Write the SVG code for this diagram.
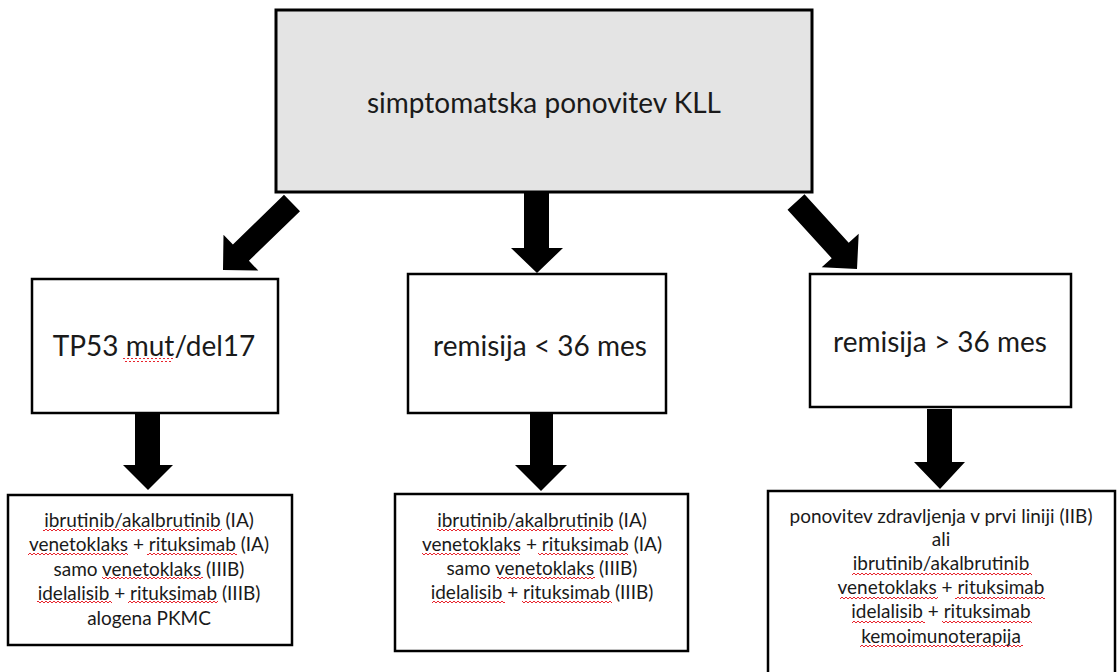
<svg xmlns="http://www.w3.org/2000/svg" width="1117" height="672" viewBox="0 0 1117 672">
<defs>
<pattern id="sq" width="4" height="4" patternUnits="userSpaceOnUse">
<path d="M0,3 L2,1 L4,3" fill="none" stroke="#e8232c" stroke-width="1"/>
</pattern>
<style>
.box{fill:#fff;stroke:#000;stroke-width:2.5}
.top{fill:#e4e4e4;stroke:#000;stroke-width:3}
.t{font-family:Lato,"Liberation Sans",sans-serif;fill:#1a1a1a;text-anchor:middle}
.big{font-size:28px}
.sm{font-size:19px}
.arr{fill:#000}
.sq{fill:url(#sq)}
</style>
</defs>
<g id="connectors">
<polygon class="arr" points="284,194.8 300,211.2 248.9,260.8 258.3,270.5 223,270 223.5,234.7 232.9,244.4"/>
<polygon class="arr" points="524,193 549,193 549,248 563,248 537,273 511,248 524,248"/>
<polygon class="arr" points="804.5,194.3 848.7,242.8 858.7,233.7 857,269 821.7,267.3 831.7,258.2 787.5,209.7"/>
<polygon class="arr" points="135,413 160,413 160,465 173,465 148,490 123,465 135,465"/>
<polygon class="arr" points="530,413 553,413 553,465 567,465 541,491 515,465 530,465"/>
<polygon class="arr" points="927,409 952,409 952,462 965,462 940,489 914,462 927,462"/>
</g>
<g id="n-top">
<rect class="top" x="276" y="10" width="536" height="182"/>
<text class="t big" x="544" y="113">simptomatska ponovitev KLL</text>
</g>
<g id="n-tp53">
<rect class="box" x="32" y="279" width="246" height="134"/>
<text class="t big" x="154" y="356">TP53 mut/del17</text>
<rect class="sq" x="123" y="358" width="50" height="4"/>
</g>
<g id="n-rem-lt">
<rect class="box" x="408" y="274" width="258" height="139"/>
<text class="t big" x="540" y="356">remisija &lt; 36 mes</text>
</g>
<g id="n-rem-gt">
<rect class="box" x="810" y="274" width="261" height="133"/>
<text class="t big" x="940" y="352">remisija &gt; 36 mes</text>
</g>
<g id="n-tx1">
<rect class="box" x="8" y="495" width="284" height="150"/>
<text class="t sm" x="149" y="527">ibrutinib/akalbrutinib (IA)</text>
<text class="t sm" x="149" y="551">venetoklaks + rituksimab (IA)</text>
<text class="t sm" x="149" y="576">samo venetoklaks (IIIB)</text>
<text class="t sm" x="149" y="600">idelalisib + rituksimab (IIIB)</text>
<text class="t sm" x="149" y="625">alogena PKMC</text>
<rect class="sq" x="43" y="528" width="179" height="4"/>
<rect class="sq" x="28" y="552" width="100" height="4"/>
<rect class="sq" x="147" y="552" width="90" height="4"/>
<rect class="sq" x="102" y="577" width="101" height="4"/>
<rect class="sq" x="37" y="601" width="75" height="4"/>
<rect class="sq" x="128" y="601" width="90" height="4"/>
</g>
<g id="n-tx2">
<rect class="box" x="395" y="494" width="293" height="157"/>
<text class="t sm" x="542" y="527">ibrutinib/akalbrutinib (IA)</text>
<text class="t sm" x="542" y="551">venetoklaks + rituksimab (IA)</text>
<text class="t sm" x="542" y="575">samo venetoklaks (IIIB)</text>
<text class="t sm" x="542" y="599">idelalisib + rituksimab (IIIB)</text>
<rect class="sq" x="437" y="528" width="176" height="4"/>
<rect class="sq" x="422" y="552" width="98" height="4"/>
<rect class="sq" x="538" y="552" width="90" height="4"/>
<rect class="sq" x="497" y="577" width="98" height="4"/>
<rect class="sq" x="432" y="601" width="73" height="4"/>
<rect class="sq" x="522" y="601" width="90" height="4"/>
</g>
<g id="n-tx3">
<rect class="box" x="768" y="491" width="347" height="200"/>
<text class="t sm" x="941" y="523">ponovitev zdravljenja v prvi liniji (IIB)</text>
<text class="t sm" x="941" y="546">ali</text>
<text class="t sm" x="941" y="570">ibrutinib/akalbrutinib</text>
<text class="t sm" x="941" y="594">venetoklaks + rituksimab</text>
<text class="t sm" x="941" y="618">idelalisib + rituksimab</text>
<text class="t sm" x="941" y="643">kemoimunoterapija</text>
<rect class="sq" x="852" y="571" width="180" height="4"/>
<rect class="sq" x="840" y="595" width="98" height="4"/>
<rect class="sq" x="955" y="595" width="90" height="4"/>
<rect class="sq" x="852" y="619" width="73" height="4"/>
<rect class="sq" x="942" y="619" width="90" height="4"/>
<rect class="sq" x="860" y="644" width="163" height="4"/>
</g>
</svg>
